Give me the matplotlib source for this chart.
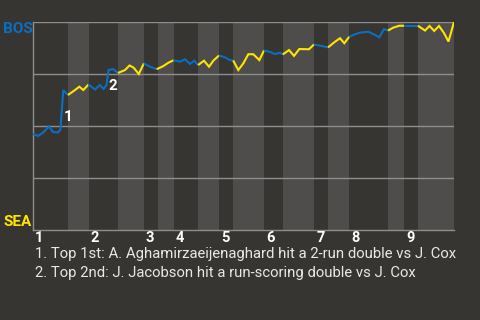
import numpy as np
import matplotlib
matplotlib.use("Agg")
import matplotlib.pyplot as plt
import matplotlib.transforms as mtransforms

# --- data ---
# x: play index along the game, wp: BOS win probability (%)
play_x = [0.0, 1.07, 2.14, 3.42, 4.28, 5.34, 5.84, 6.48, 7.48,
          8.98, 9.90, 10.75, 11.86,
          13.25, 14.32, 15.07, 15.71, 16.14, 17.10, 18.17,
          19.67, 20.63, 21.48, 22.62, 23.70,
          25.01, 26.44,
          27.86, 28.92, 30.04,
          31.43, 32.49, 33.56, 34.48, 35.30,
          36.56, 37.63, 38.55, 39.76,
          41.05, 42.11, 42.80,
          43.89, 44.96, 46.03, 47.10, 48.38, 49.38,
          50.67, 51.73, 52.80, 53.40,
          54.73, 55.80, 56.93, 59.00, 60.07,
          61.36, 63.07,
          64.56, 65.63, 66.55, 67.60,
          68.84, 69.91, 71.68, 72.75, 74.03, 75.04, 75.90,
          77.02, 78.31, 79.30,
          80.81, 82.30,
          83.80, 84.76, 85.77, 86.79, 87.86, 88.82, 90.0]
bos_wp = [46.2, 45.2, 46.8, 49.8, 47.1, 46.9, 48.1, 67.3, 64.9,
          67.3, 68.9, 67.3, 69.9,
          67.6, 69.7, 67.8, 69.7, 76.9, 77.4, 75.5,
          76.9, 79.1, 78.1, 75.0, 80.1,
          78.5, 77.3,
          78.8, 80.4, 81.6,
          80.9, 82.1, 79.8, 81.4, 79.3,
          81.4, 78.5, 81.4, 83.9,
          83.0, 81.7, 81.5,
          76.9, 80.1, 84.5, 84.5, 81.7, 86.3,
          85.6, 84.6, 85.2, 84.4,
          86.5, 83.7, 87.0, 86.9, 89.2,
          88.6, 87.8,
          90.5, 92.2, 89.8, 92.9,
          94.1, 94.9, 95.3, 94.2, 92.6, 96.6, 95.9,
          97.3, 98.2, 98.2,
          98.2, 98.2,
          95.9, 98.1, 95.7, 98.1, 94.7, 90.6, 100.0]

# start of every half inning (top 1st, bottom 1st, top 2nd, ...)
half_starts = [0, 7.5, 11.9, 18.2, 23.7, 26.7, 30.1, 35.3, 39.8, 42.8,
               49.4, 53.4, 60.1, 63.1, 67.6, 75.9, 79.3, 82.3]
x_end = 90
inning_labels = ["1", "2", "3", "4", "5", "6", "7", "8", "9"]

note_x = [6.63, 16.1]
note_wp = [54.3, 69.1]
note_labels = ["1", "2"]
notes = ["1. Top 1st: A. Aghamirzaeijenaghard hit a 2-run double vs J. Cox",
         "2. Top 2nd: J. Jacobson hit a run-scoring double vs J. Cox"]

# --- styling ---
BG = "#373531"
BAND = "#4f4d4b"
GRID = "#8e8e8e"
BLUE = "#0a6fc2"
YELLOW = "#ffe500"

plt.rcParams['font.family'] = ['Roboto', 'DejaVu Sans']

fig = plt.figure(figsize=(4.8, 3.2), dpi=100, facecolor=BG)
ax = fig.add_axes([33 / 480, 90 / 320, 421 / 480, 208 / 320])
ax.set_facecolor(BG)

# shaded bottom halves
bounds = half_starts + [x_end]
for i in range(1, len(half_starts), 2):
    ax.axvspan(bounds[i], bounds[i + 1], color=BAND, lw=0, zorder=0)

for g in [25, 50, 75, 100]:
    ax.axhline(g, color=GRID, lw=1, zorder=1)

# line coloured by batting team
px = np.array(play_x)
py = np.array(bos_wp)
prev = 0
for i in range(len(half_starts)):
    lo, hi = bounds[i], bounds[i + 1]
    if i == 0:
        idx = np.where(px <= hi)[0]
    else:
        idx = np.where((px > lo) & (px <= hi))[0]
    if len(idx) == 0:
        continue
    seg = np.concatenate([[prev], idx]) if i > 0 else idx
    ax.plot(px[seg], py[seg], color=BLUE if i % 2 == 0 else YELLOW,
            lw=1.5, solid_capstyle='butt', solid_joinstyle='miter', zorder=3)
    prev = idx[-1]

for nx, ny, nl in zip(note_x, note_wp, note_labels):
    ax.text(nx, ny, nl, color="white", fontsize=11, fontweight='bold',
            ha='left', va='center', zorder=4)

ax.set_xlim(0, x_end)
ax.set_ylim(0, 100)
ax.set_xticks([])
ax.set_yticks([])
for s in ['top', 'right']:
    ax.spines[s].set_visible(False)
for s in ['left', 'bottom']:
    ax.spines[s].set_color(GRID)
    ax.spines[s].set_linewidth(1)

trans = mtransforms.blended_transform_factory(ax.transData, ax.transAxes)
offset = mtransforms.ScaledTranslation(2 / 100, 0, fig.dpi_scale_trans)
for k, lab in enumerate(inning_labels):
    ax.text(half_starts[2 * k], -0.059, lab, transform=trans + offset,
            color="white", fontsize=10.5, fontweight='bold',
            ha='left', va='baseline')

fig.text(3 / 480, 1 - 33.3 / 320, "BOS", color=BLUE, fontsize=11,
         fontweight='bold', ha='left', va='baseline')
fig.text(3 / 480, 1 - 226 / 320, "SEA", color=YELLOW, fontsize=11,
         fontweight='bold', ha='left', va='baseline')

for k, line in enumerate(notes):
    fig.text(35 / 480, 1 - (258.3 + 18.5 * k) / 320, line, color="#e8e8e8",
             fontsize=10.7, ha='left', va='baseline')

fig.savefig("out.png", dpi=100, facecolor=BG)
